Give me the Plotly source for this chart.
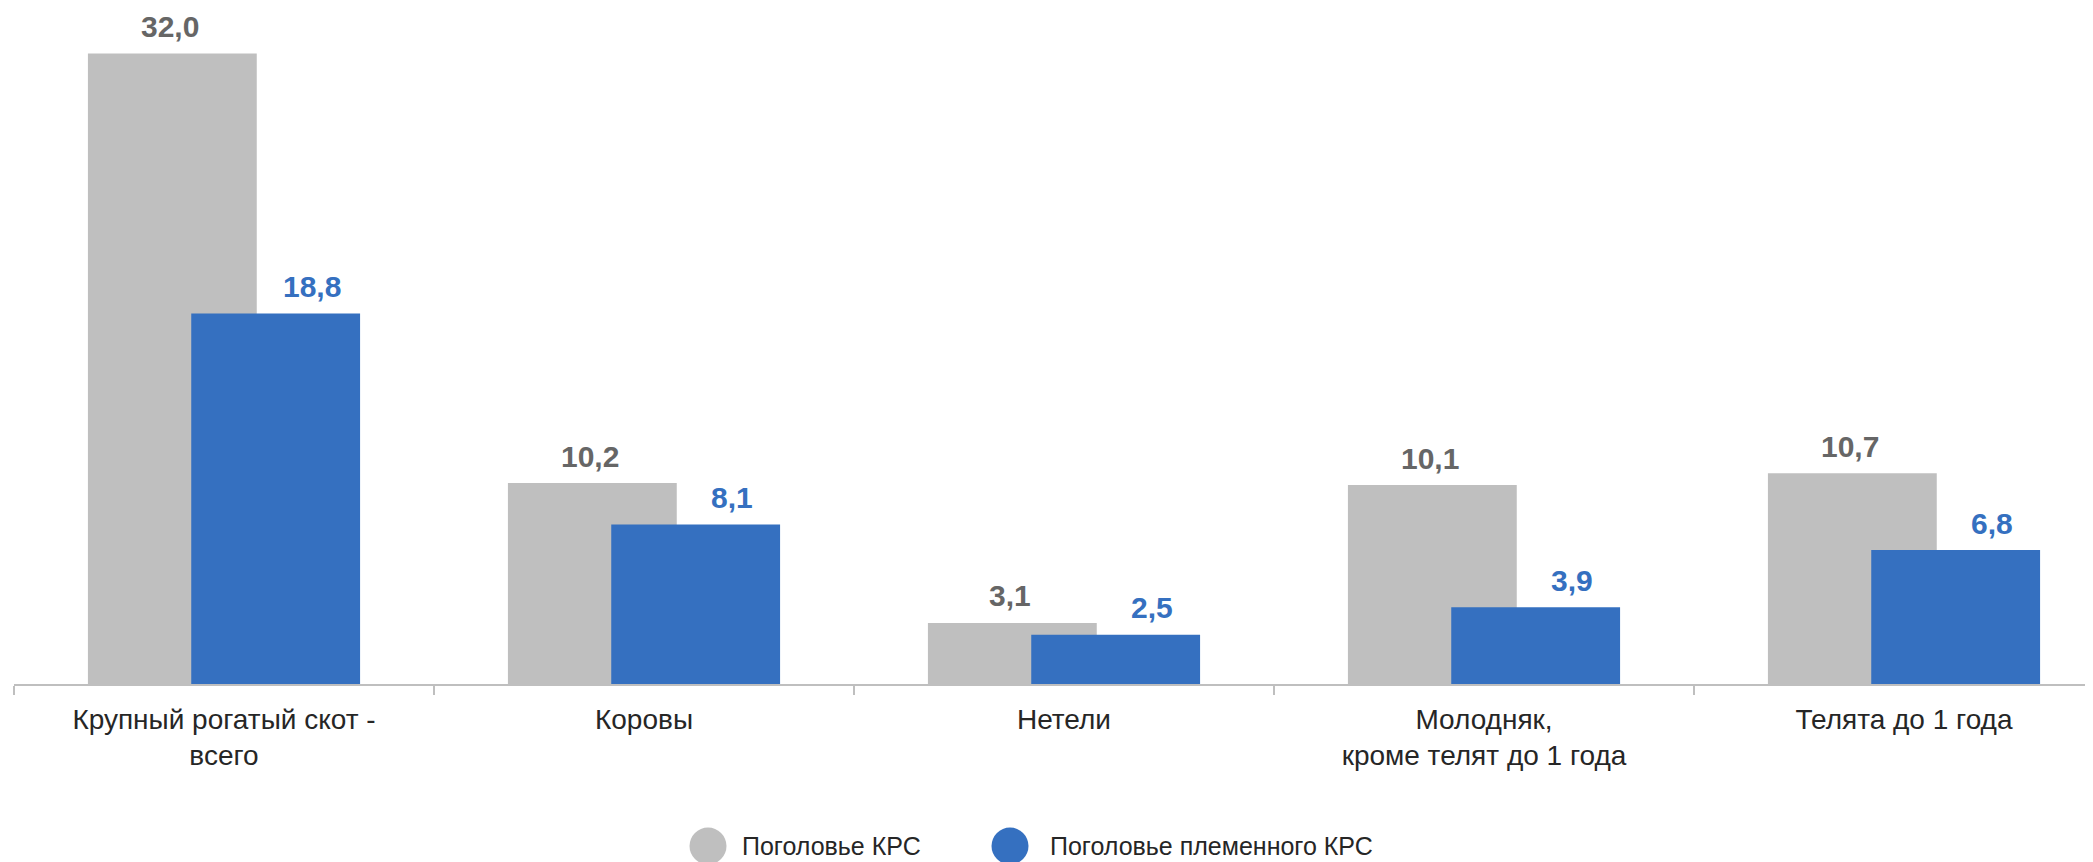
import plotly.graph_objects as go

# data
categories = [
    "Крупный рогатый скот -<br>всего",
    "Коровы",
    "Нетели",
    "Молодняк,<br>кроме телят до 1 года",
    "Телята до 1 года",
]
total_krs = [32.0, 10.2, 3.1, 10.1, 10.7]
breeding_krs = [18.8, 8.1, 2.5, 3.9, 6.8]
series_names = ["Поголовье КРС", "Поголовье племенного КРС"]

GREY = "#bfbfbf"
BLUE = "#3570c0"
GREY_TEXT = "#666666"
DARK_TEXT = "#262626"
FONT = "Liberation Sans, Arial, sans-serif"

# page body has an 8px margin, so the figure sits at (8, 8) in the window
BODY = 8
W, H = 2093 - 2 * BODY, 862 - BODY
M_L, M_R, M_T, M_B = 6, 0, 3, 178


def fmt(v):
    return f"{v:.1f}".replace(".", ",")


fig = go.Figure()
fig.add_trace(go.Bar(x=categories, y=total_krs, name=series_names[0],
                     offset=-0.324, width=0.402, marker_color=GREY,
                     marker_line_width=0, showlegend=False))
fig.add_trace(go.Bar(x=categories, y=breeding_krs, name=series_names[1],
                     offset=-0.078, width=0.402, marker_color=BLUE,
                     marker_line_width=0, showlegend=False))

annotations = []
for cat, v in zip(categories, total_krs):
    annotations.append(dict(x=cat, y=v, text=fmt(v), showarrow=False,
                            xshift=-54, yshift=27, yanchor="middle",
                            font=dict(family=FONT, size=30, color=GREY_TEXT, weight="bold")))
for cat, v in zip(categories, breeding_krs):
    annotations.append(dict(x=cat, y=v, text=fmt(v), showarrow=False,
                            xshift=88, yshift=27, yanchor="middle",
                            font=dict(family=FONT, size=30, color=BLUE, weight="bold")))

# legend drawn by hand to get the big round markers
plot_w = W - M_L - M_R
plot_h = H - M_T - M_B


def px_to_paper(px, py):
    # px, py are window pixels
    return (px - BODY - M_L) / plot_w, (H - M_B - (py - BODY)) / plot_h


shapes = []
legend_items = [(series_names[0], GREY, 708, 740), (series_names[1], BLUE, 1010, 1048)]
for name, color, cx, tx in legend_items:
    x0, y0 = px_to_paper(cx, 846)
    shapes.append(dict(type="circle", xref="paper", yref="paper",
                       xsizemode="pixel", ysizemode="pixel", xanchor=x0, yanchor=y0,
                       x0=-18.5, x1=18.5, y0=-18.5, y1=18.5,
                       fillcolor=color, line=dict(width=0)))
    xt, yt = px_to_paper(tx, 846)
    annotations.append(dict(x=xt, y=yt, xref="paper", yref="paper", text=name,
                            showarrow=False, xanchor="left", yanchor="middle",
                            font=dict(family=FONT, size=25, color=DARK_TEXT)))

# category axis runs past the right edge of the window, as in the original
x_hi = -0.5 + plot_w / 420.0

fig.update_layout(
    width=W, height=H,
    margin=dict(l=M_L, r=M_R, t=M_T, b=M_B),
    barmode="overlay",
    plot_bgcolor="white", paper_bgcolor="white",
    showlegend=False,
    annotations=annotations,
    shapes=shapes,
    font=dict(family=FONT, color=DARK_TEXT),
)
fig.update_xaxes(
    range=[-0.5, x_hi], showgrid=False, showline=True, linecolor=GREY, linewidth=2,
    ticks="outside", tickson="boundaries", ticklen=9, tickcolor=GREY, tickwidth=1.5,
    ticklabelstandoff=9,
    tickfont=dict(family=FONT, size=28, color=DARK_TEXT),
)
fig.update_yaxes(range=[0, 34.16], visible=False, showgrid=False)

fig.write_html("out.html")
